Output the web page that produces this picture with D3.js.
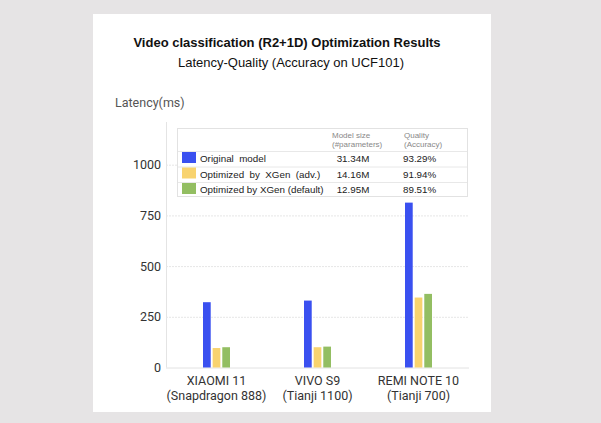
<!DOCTYPE html>
<html>
<head>
<meta charset="utf-8">
<script src="https://cdn.jsdelivr.net/npm/d3@7"></script>
<style>
html,body{margin:0;padding:0;background:#e6e4e5;}
svg{display:block;}
</style>
</head>
<body>
<svg id="chart" width="601" height="423"></svg>
<script>
// ---- data ----
const categories = ["XIAOMI 11", "VIVO S9", "REMI NOTE 10"];
const chipsets = ["(Snapdragon 888)", "(Tianji 1100)", "(Tianji 700)"];
const seriesNames = ["Original  model", "Optimized  by  XGen  (adv.)", "Optimized by XGen (default)"];
const originalValues = [322, 330, 813];
const advValues = [96, 100, 345];
const defaultValues = [100, 103, 363];
const modelSizes = ["31.34M", "14.16M", "12.95M"];
const qualities = ["93.29%", "91.94%", "89.51%"];
const yTicks = [0, 250, 500, 750, 1000];
const colors = ["#3a50f0", "#f8d36f", "#93be62"];

const series = [originalValues, advValues, defaultValues];

const svg = d3.select("#chart");

// card
svg.append("rect").attr("x", 93).attr("y", 14).attr("width", 398).attr("height", 398).attr("fill", "#fff");

// titles
svg.append("text").attr("x", 287).attr("y", 47).attr("text-anchor", "middle")
  .style("font-family", "Liberation Sans, Arial, sans-serif").style("font-weight", "bold")
  .style("font-size", "13px").attr("fill", "#111").text("Video classification (R2+1D) Optimization Results");
svg.append("text").attr("x", 291).attr("y", 67).attr("text-anchor", "middle")
  .style("font-family", "Liberation Sans, Arial, sans-serif")
  .style("font-size", "13px").attr("fill", "#111").text("Latency-Quality (Accuracy on UCF101)");
svg.append("text").attr("x", 115).attr("y", 107)
  .style("font-family", "Roboto, Liberation Sans, sans-serif")
  .style("font-size", "12.5px").attr("fill", "#555").text("Latency(ms)");

// scales
const x0 = d3.scaleBand().domain(categories).range([166, 469]);
const x1 = d3.scaleBand().domain(d3.range(series.length)).range([-13.5, 13.5]).paddingInner(0.2);
const y = d3.scaleLinear().domain([0, 1000]).range([367.5, 164.7]);

// y axis line
svg.append("line").attr("x1", 166.5).attr("x2", 166.5).attr("y1", 122).attr("y2", y(0))
  .attr("stroke", "#e4e4e4").attr("stroke-width", 1);

// gridlines + ticks via axis
const yAxis = d3.axisLeft(y).tickValues(yTicks).tickSize(-(469 - 166)).tickPadding(5).tickFormat(d3.format("d"));
const gy = svg.append("g").attr("transform", "translate(166,0)").call(yAxis);
gy.select(".domain").remove();
gy.selectAll(".tick line")
  .attr("stroke", d => d === 0 ? "#e2e2e2" : "#e6e6e6")
  .attr("stroke-dasharray", d => d === 0 ? null : "2,1");
gy.selectAll(".tick text")
  .style("font-family", "Roboto, Liberation Sans, sans-serif")
  .style("font-size", "12.5px").attr("fill", "#333");

// bars
const groups = svg.append("g").selectAll("g").data(categories).join("g")
  .attr("transform", c => `translate(${x0(c) + x0.bandwidth() / 2},0)`);
groups.selectAll("rect").data((c, i) => series.map((s, k) => ({k, v: s[i]}))).join("rect")
  .attr("x", d => x1(d.k))
  .attr("width", x1.bandwidth())
  .attr("y", d => y(d.v))
  .attr("height", d => y(0) - y(d.v))
  .attr("fill", d => colors[d.k]);

// x labels
const xl = svg.append("g").selectAll("text").data(categories).join("text")
  .attr("x", c => x0(c) + x0.bandwidth() / 2).attr("text-anchor", "middle")
  .style("font-family", "Roboto, Liberation Sans, sans-serif")
  .style("font-size", "12.5px").attr("fill", "#333");
xl.append("tspan").attr("x", c => x0(c) + x0.bandwidth() / 2).attr("y", 385).text(c => c);
xl.append("tspan").attr("x", c => x0(c) + x0.bandwidth() / 2).attr("y", 400).text((c, i) => chipsets[i]);

// legend table
const lg = svg.append("g");
lg.append("rect").attr("x", 177.5).attr("y", 128.5).attr("width", 290).attr("height", 68)
  .attr("fill", "#fff").attr("stroke", "#e2e2e2");
const rowY = [151, 166.5, 182];
lg.selectAll("line.div").data(rowY).join("line").attr("class", "div")
  .attr("x1", 178).attr("x2", 467).attr("y1", d => d + 0.5).attr("y2", d => d + 0.5)
  .attr("stroke", "#e8e8e8");
const hdrFont = "Liberation Sans, Arial, sans-serif";
[["Model size", 332, 137.5], ["(#parameters)", 332, 146.5], ["Quality", 404, 137.5], ["(Accuracy)", 404, 146.5]].forEach(t => {
  lg.append("text").attr("x", t[1]).attr("y", t[2]).style("font-family", hdrFont)
    .style("font-size", "8px").attr("fill", "#888").text(t[0]);
});
const rows = lg.selectAll("g.row").data(seriesNames).join("g").attr("class", "row")
  .attr("transform", (d, i) => `translate(0,${rowY[i]})`);
rows.append("rect").attr("x", 182).attr("y", 1).attr("width", 14).attr("height", 11)
  .attr("fill", (d, i) => colors[i]);
rows.append("text").attr("x", 200).attr("y", 11).attr("xml:space", "preserve")
  .style("white-space", "pre")
  .style("font-family", hdrFont).style("font-size", "9.8px").attr("fill", "#222").text(d => d);
rows.append("text").attr("x", 353).attr("y", 11).attr("text-anchor", "middle")
  .style("font-family", hdrFont).style("font-size", "9.8px").attr("fill", "#222").text((d, i) => modelSizes[i]);
rows.append("text").attr("x", 403).attr("y", 11)
  .style("font-family", hdrFont).style("font-size", "9.8px").attr("fill", "#222").text((d, i) => qualities[i]);
</script>
</body>
</html>
